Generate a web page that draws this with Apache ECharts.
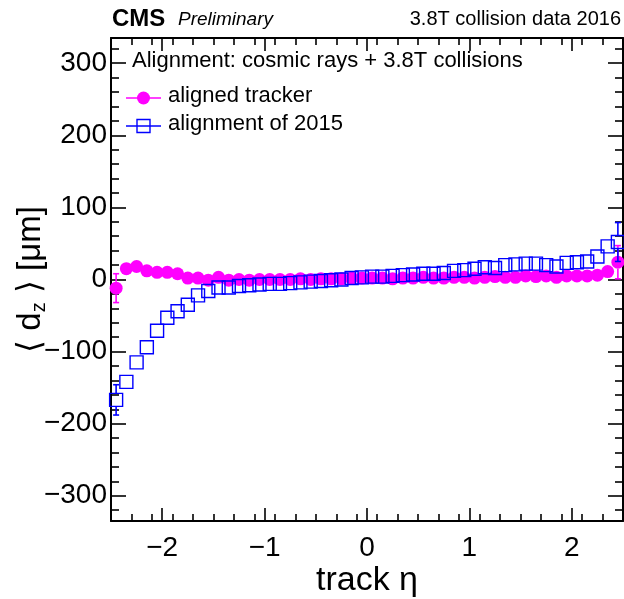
<!DOCTYPE html>
<html><head><meta charset="utf-8">
<script src="https://cdn.jsdelivr.net/npm/echarts@6/dist/echarts.min.js"></script>
<style>html,body{margin:0;padding:0;background:#fff}#c{width:624px;height:599px}</style>
</head><body><div id="c"></div>
<script>
// ---- data ----
const etaCenters = [-2.45,-2.35,-2.25,-2.15,-2.05,-1.95,-1.85,-1.75,-1.65,-1.55,
  -1.45,-1.35,-1.25,-1.15,-1.05,-0.95,-0.85,-0.75,-0.65,-0.55,
  -0.45,-0.35,-0.25,-0.15,-0.05,0.05,0.15,0.25,0.35,0.45,
  0.55,0.65,0.75,0.85,0.95,1.05,1.15,1.25,1.35,1.45,
  1.55,1.65,1.75,1.85,1.95,2.05,2.15,2.25,2.35,2.45];
const alignedTracker = [-12,15,18,12,10,10,8,2,2,-1,
  3,-1,0,-1,0,0,0,0,1,0,
  1,1,1,2,2,2,2,1,2,2,
  3,2,2,3,3,2,3,4,3,3,
  5,4,5,3,5,5,5,6,11,24];
const alignedTrackerErr = [20,3,3,2,2,2,2,2,2,2,
  2,2,2,2,2,2,2,2,2,2,
  2,2,2,2,2,2,2,2,2,2,
  2,2,2,2,2,2,2,2,2,2,
  2,2,2,2,2,2,2,3,3,23];
const alignment2015 = [-167,-142,-115,-94,-71,-53,-44,-35,-22,-16,
  -11,-11,-9,-8,-7,-6,-6,-5,-4,-3,
  -2,-1,0,2,3,4,4,5,6,7,
  8,8,9,12,13,15,17,16,20,21,
  22,22,20,18,23,24,25,32,46,52];
const alignment2015Err = [21,4,3,3,2,2,2,2,2,2,
  2,2,2,2,2,2,2,2,2,2,
  2,2,2,2,2,2,2,2,2,2,
  2,2,2,2,2,2,2,2,2,2,
  2,2,2,2,2,2,2,3,4,27];
const xTickLabels = [-2,-1,0,1,2];
const yTickLabels = [-300,-200,-100,0,100,200,300];
const seriesNames = ['aligned tracker','alignment of 2015'];
const legendHeader = 'Alignment: cosmic rays + 3.8T collisions';

// ---- style ----
const FONT = '"Liberation Sans", Arial, Helvetica, sans-serif';
const MAG = '#ff00ff', BLUE = '#0000ff';
const X_MIN = -2.5, X_MAX = 2.5, Y_MIN = -335, Y_MAX = 335;
const MSIZE = 13;

const xMinor = [], yMinor = [];
for (let i = -25; i <= 25; i += 2) { const v = +(i/10).toFixed(1); if (Math.abs(v % 1) > 1e-9) xMinor.push(v); }
for (let v = -320; v <= 320; v += 20) if (v % 100 !== 0) yMinor.push(v);

const fmt = v => (v < 0 ? '\u2212' : '') + Math.abs(v);
const tickLS = {color:'#000', width:1.6};
const frame = {show:true, onZero:false, lineStyle:{color:'#000', width:2}};
const noLine = {show:false, onZero:false};

function xAx(pos, ticks, len, withLabel, line) {
  const a = {type:'value', min:X_MIN, max:X_MAX, position:pos, axisLine:line ? frame : noLine,
    splitLine:{show:false},
    axisTick:{show:true, inside:true, length:len, customValues:ticks, lineStyle:tickLS},
    axisLabel:{show:withLabel, customValues:ticks, formatter:fmt, fontSize:28, color:'#000', fontFamily:FONT, margin:13}};
  if (withLabel) Object.assign(a, {name:'track \u03b7', nameLocation:'middle', nameGap:43, nameMoveOverlap:false,
    nameTextStyle:{fontSize:34, color:'#000', fontFamily:FONT}});
  return a;
}
function yAx(pos, ticks, len, withLabel, line) {
  const a = {type:'value', min:Y_MIN, max:Y_MAX, position:pos, axisLine:line ? frame : noLine,
    splitLine:{show:false},
    axisTick:{show:true, inside:true, length:len, customValues:ticks, lineStyle:tickLS},
    axisLabel:{show:withLabel, customValues:ticks, formatter:fmt, fontSize:28, color:'#000', fontFamily:FONT, margin:4}};
  if (withLabel) Object.assign(a, {name:'\u27e8 d{s|z} \u27e9 [\u03bcm]', nameLocation:'middle', nameGap:62, nameRotate:90, nameMoveOverlap:false,
    nameTextStyle:{fontSize:33, color:'#000', fontFamily:FONT, rich:{s:{fontSize:20, color:'#000', fontFamily:FONT, verticalAlign:'bottom', padding:[16,0,0,0]}}}});
  return a;
}

function toPts(vals) { return etaCenters.map((x,i) => [x, vals[i]]); }
function errData(vals, errs) { return etaCenters.map((x,i) => [x, vals[i], errs[i]]); }
function errSeries(vals, errs, color, z) {
  return {type:'custom', z:z, silent:true, data:errData(vals, errs),
    renderItem(params, api) {
      const x = api.value(0), y = api.value(1), e = api.value(2);
      const pc = api.coord([x, y]);
      const lo = api.coord([x, y - e]), hi = api.coord([x, y + e]);
      const h = MSIZE / 2, cw = 3, st = {stroke:color, lineWidth:1.6};
      const ch = [];
      if (lo[1] - pc[1] > h) {
        ch.push({type:'line', shape:{x1:pc[0], y1:pc[1] + h, x2:lo[0], y2:lo[1]}, style:st});
        ch.push({type:'line', shape:{x1:lo[0]-cw, y1:lo[1], x2:lo[0]+cw, y2:lo[1]}, style:st});
      }
      if (pc[1] - hi[1] > h) {
        ch.push({type:'line', shape:{x1:pc[0], y1:pc[1] - h, x2:hi[0], y2:hi[1]}, style:st});
        ch.push({type:'line', shape:{x1:hi[0]-cw, y1:hi[1], x2:hi[0]+cw, y2:hi[1]}, style:st});
      }
      return {type:'group', children:ch};
    }};
}

const chart = echarts.init(document.getElementById('c'), null, {renderer:'canvas'});
chart.setOption({
  animation:false,
  backgroundColor:'#fff',
  grid:{left:111, right:1, top:38, bottom:78, containLabel:false, outerBoundsMode:'none'},
  xAxis:[xAx('bottom', xTickLabels, 13, true, true), xAx('bottom', xMinor, 7, false, false),
         xAx('top', xTickLabels, 13, false, true), xAx('top', xMinor, 7, false, false)],
  yAxis:[yAx('left', yTickLabels, 15, true, true), yAx('left', yMinor, 8, false, false),
         yAx('right', yTickLabels, 15, false, true), yAx('right', yMinor, 8, false, false)],
  series:[
    errSeries(alignedTracker, alignedTrackerErr, MAG, 2),
    {type:'scatter', name:seriesNames[0], z:3, data:toPts(alignedTracker), symbol:'circle', symbolSize:MSIZE,
      itemStyle:{color:MAG, opacity:1}},
    errSeries(alignment2015, alignment2015Err, BLUE, 4),
    {type:'scatter', name:seriesNames[1], z:5, data:toPts(alignment2015), symbol:'rect', symbolSize:MSIZE,
      itemStyle:{color:'rgba(0,0,0,0)', borderColor:BLUE, borderWidth:1.4, opacity:1}}
  ],
  graphic:[
    {type:'text', left:112, top:7, style:{text:'CMS', font:'bold 24px ' + FONT, fill:'#000'}},
    {type:'text', left:178, top:10, style:{text:'Preliminary', font:'italic 19px ' + FONT, fill:'#000'}},
    {type:'text', right:3, top:9, style:{text:'3.8T collision data 2016', font:'20px ' + FONT, fill:'#000'}},
    {type:'text', left:132, top:50, style:{text:legendHeader, font:'22px ' + FONT, fill:'#000'}},
    {type:'line', shape:{x1:126, y1:98, x2:161, y2:98}, style:{stroke:MAG, lineWidth:1.4}},
    {type:'circle', shape:{cx:143.5, cy:98, r:6.5}, style:{fill:MAG}},
    {type:'text', left:168, top:85, style:{text:seriesNames[0], font:'22px ' + FONT, fill:'#000'}},
    {type:'line', shape:{x1:126, y1:126, x2:161, y2:126}, style:{stroke:BLUE, lineWidth:1.4}},
    {type:'rect', shape:{x:137, y:119.5, width:13, height:13}, style:{fill:'none', stroke:BLUE, lineWidth:1.4}},
    {type:'text', left:168, top:113, style:{text:seriesNames[1], font:'22px ' + FONT, fill:'#000'}}
  ]
});
</script></body></html>
